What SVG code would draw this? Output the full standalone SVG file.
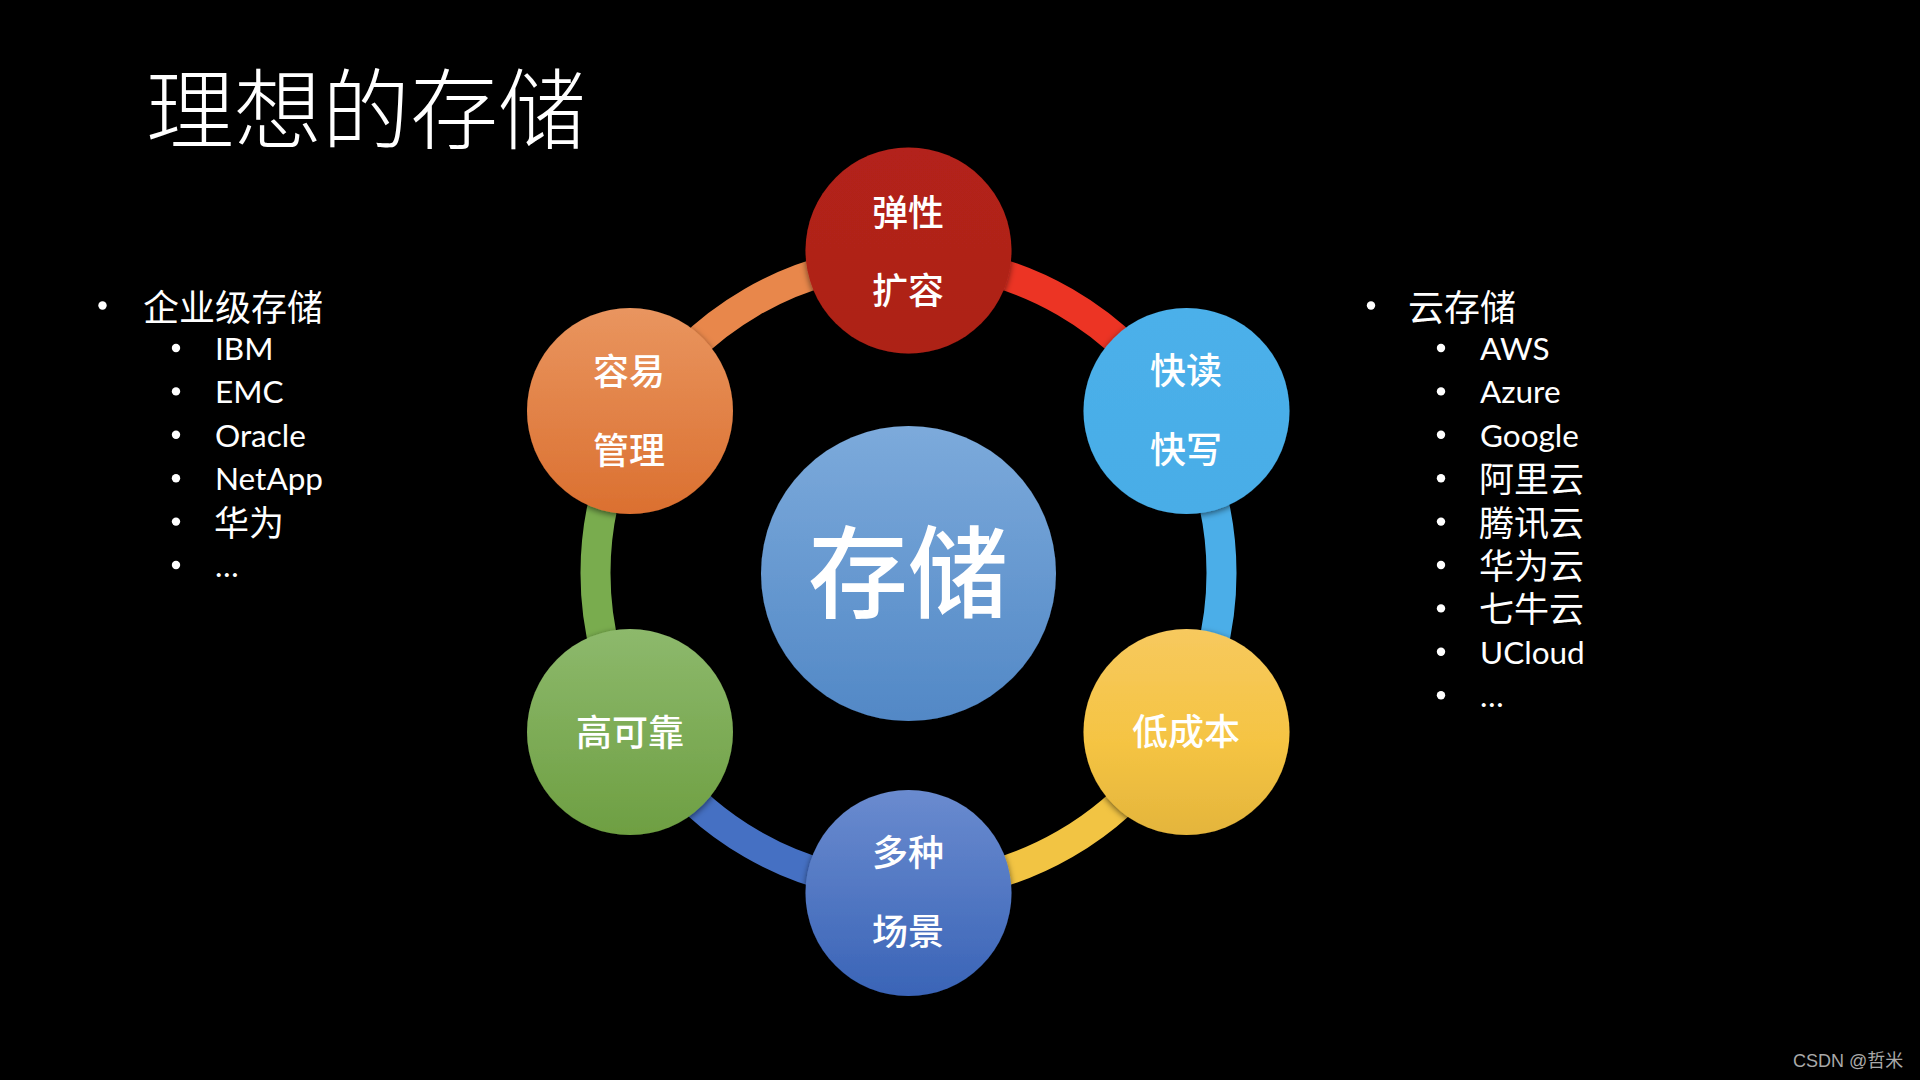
<svg xmlns="http://www.w3.org/2000/svg" width="1920" height="1080" viewBox="0 0 1920 1080">
<defs>
  <linearGradient id="gCenter" x1="0" y1="0" x2="0" y2="1">
    <stop offset="0" stop-color="#7CAADB"/><stop offset="1" stop-color="#5288C6"/>
  </linearGradient>
  <linearGradient id="gRed" x1="0" y1="0" x2="0" y2="1">
    <stop offset="0" stop-color="#B3231A"/><stop offset="1" stop-color="#AD2118"/>
  </linearGradient>
  <linearGradient id="gOrange" x1="0" y1="0" x2="0" y2="1">
    <stop offset="0" stop-color="#E9955F"/><stop offset="1" stop-color="#DB7030"/>
  </linearGradient>
  <linearGradient id="gSky" x1="0" y1="0" x2="0" y2="1">
    <stop offset="0" stop-color="#4CB0EA"/><stop offset="1" stop-color="#48ADE7"/>
  </linearGradient>
  <linearGradient id="gYellow" x1="0" y1="0" x2="0" y2="1">
    <stop offset="0" stop-color="#F7C95E"/><stop offset="0.55" stop-color="#F5C443"/><stop offset="1" stop-color="#E4B53C"/>
  </linearGradient>
  <linearGradient id="gBlue" x1="0" y1="0" x2="0" y2="1">
    <stop offset="0" stop-color="#6A8BCF"/><stop offset="1" stop-color="#3A64B7"/>
  </linearGradient>
  <linearGradient id="gGreen" x1="0" y1="0" x2="0" y2="1">
    <stop offset="0" stop-color="#8DB96C"/><stop offset="1" stop-color="#6E9F42"/>
  </linearGradient>
  <filter id="sh" x="-20%" y="-20%" width="140%" height="140%">
    <feDropShadow dx="0" dy="2" stdDeviation="3" flood-color="#000" flood-opacity="0.55"/>
  </filter>
</defs>
<style>
  .cjk { font-family: "Noto Sans CJK SC", "Noto Sans CJK JP", sans-serif; fill: #ffffff; }
  .lat { font-family: Lato, "Open Sans", "Noto Sans CJK SC", sans-serif; fill: #ffffff; font-size: 31.5px; }
  .sub { font-size: 35px; }
  .main { font-size: 36px; }
  .lbl { font-size: 36px; font-weight: 500; text-anchor: middle; }
  .ring { fill: none; stroke-width: 30; }
  .dot { fill: #ffffff; }
</style>
<rect x="0" y="0" width="1920" height="1080" fill="#000000"/>

<text id="title" class="cjk" x="146" y="142" font-size="88" font-weight="300">理想的存储</text>

<g id="connectors">
  <path class="ring" stroke="#E8874B" d="M 637.43 416.5 A 313 313 0 0 1 908.5 260"/>
  <path class="ring" stroke="#EC3424" d="M 908.5 260 A 313 313 0 0 1 1179.57 416.5"/>
  <path class="ring" stroke="#4BAEE8" d="M 1179.57 416.5 A 313 313 0 0 1 1179.57 729.5"/>
  <path class="ring" stroke="#F2C443" d="M 1179.57 729.5 A 313 313 0 0 1 908.5 886"/>
  <path class="ring" stroke="#4570C3" d="M 908.5 886 A 313 313 0 0 1 637.43 729.5"/>
  <path class="ring" stroke="#79AC4E" d="M 637.43 729.5 A 313 313 0 0 1 637.43 416.5"/>
</g>

<g id="node-center">
  <circle cx="908.5" cy="573.5" r="147.5" fill="url(#gCenter)" filter="url(#sh)"/>
  <text class="cjk" x="908" y="610" font-size="100" font-weight="500" text-anchor="middle">存储</text>
</g>

<g id="node-elastic">
  <circle cx="908.5" cy="250.5" r="103" fill="url(#gRed)" filter="url(#sh)"/>
  <text class="cjk lbl" x="908" y="225.5">弹性</text>
  <text class="cjk lbl" x="908" y="303.5">扩容</text>
</g>

<g id="node-fast">
  <circle cx="1186.5" cy="411" r="103" fill="url(#gSky)" filter="url(#sh)"/>
  <text class="cjk lbl" x="1186" y="384">快读</text>
  <text class="cjk lbl" x="1186" y="463">快写</text>
</g>

<g id="node-lowcost">
  <circle cx="1186.5" cy="732" r="103" fill="url(#gYellow)" filter="url(#sh)"/>
  <text class="cjk lbl" x="1186" y="745">低成本</text>
</g>

<g id="node-scenes">
  <circle cx="908.5" cy="893" r="103" fill="url(#gBlue)" filter="url(#sh)"/>
  <text class="cjk lbl" x="908" y="866">多种</text>
  <text class="cjk lbl" x="908" y="945">场景</text>
</g>

<g id="node-reliable">
  <circle cx="630" cy="732" r="103" fill="url(#gGreen)" filter="url(#sh)"/>
  <text class="cjk lbl" x="630" y="746">高可靠</text>
</g>

<g id="node-manage">
  <circle cx="630" cy="411" r="103" fill="url(#gOrange)" filter="url(#sh)"/>
  <text class="cjk lbl" x="629" y="385">容易</text>
  <text class="cjk lbl" x="629" y="463.5">管理</text>
</g>

<g id="list-enterprise">
  <circle class="dot" cx="102.5" cy="305.5" r="4.2"/>
  <text class="cjk main" x="143" y="320.5">企业级存储</text>
  <circle class="dot" cx="176" cy="348" r="4.2"/>
  <text class="lat" x="215" y="360">IBM</text>
  <circle class="dot" cx="176" cy="391.4" r="4.2"/>
  <text class="lat" x="215" y="403.4">EMC</text>
  <circle class="dot" cx="176" cy="434.8" r="4.2"/>
  <text class="lat" x="215" y="446.8">Oracle</text>
  <circle class="dot" cx="176" cy="478.2" r="4.2"/>
  <text class="lat" x="215" y="490.2">NetApp</text>
  <circle class="dot" cx="176" cy="521.6" r="4.2"/>
  <text class="cjk sub" x="214" y="536">华为</text>
  <circle class="dot" cx="176" cy="565" r="4.2"/>
  <text class="lat" x="215" y="577">…</text>
</g>

<g id="list-cloud">
  <circle class="dot" cx="1371" cy="305.5" r="4.2"/>
  <text class="cjk main" x="1408" y="320.5">云存储</text>
  <circle class="dot" cx="1441" cy="348" r="4.2"/>
  <text class="lat" x="1480" y="360">AWS</text>
  <circle class="dot" cx="1441" cy="391.4" r="4.2"/>
  <text class="lat" x="1480" y="403.4">Azure</text>
  <circle class="dot" cx="1441" cy="434.8" r="4.2"/>
  <text class="lat" x="1480" y="446.8">Google</text>
  <circle class="dot" cx="1441" cy="478.2" r="4.2"/>
  <text class="cjk sub" x="1479" y="492">阿里云</text>
  <circle class="dot" cx="1441" cy="521.6" r="4.2"/>
  <text class="cjk sub" x="1479" y="535.5">腾讯云</text>
  <circle class="dot" cx="1441" cy="565" r="4.2"/>
  <text class="cjk sub" x="1479" y="579">华为云</text>
  <circle class="dot" cx="1441" cy="608.4" r="4.2"/>
  <text class="cjk sub" x="1479" y="622.4">七牛云</text>
  <circle class="dot" cx="1441" cy="651.8" r="4.2"/>
  <text class="lat" x="1480" y="663.8">UCloud</text>
  <circle class="dot" cx="1441" cy="695.2" r="4.2"/>
  <text class="lat" x="1480" y="707.2">…</text>
</g>

<text id="watermark" x="1793" y="1067" font-family="'Liberation Sans', 'Noto Sans CJK SC', sans-serif" font-size="18" fill="#A9A9A9">CSDN @哲米</text>
</svg>
